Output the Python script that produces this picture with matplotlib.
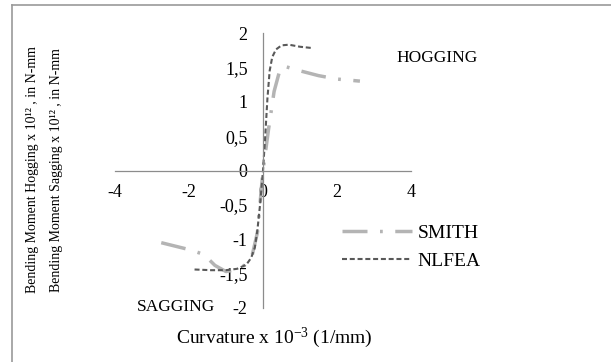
import matplotlib
matplotlib.use("Agg")
import matplotlib.pyplot as plt
from matplotlib.lines import Line2D

plt.rcParams['font.family'] = ['Liberation Serif', 'DejaVu Serif']
plt.rcParams['mathtext.fontset'] = 'custom'
plt.rcParams['mathtext.rm'] = 'Liberation Serif'
plt.rcParams['mathtext.it'] = 'Liberation Serif:italic'
plt.rcParams['lines.scale_dashes'] = False

# Data
smith_x = [-2.75, -2.0, -1.6, -1.3, -1.0, -0.8, -0.5, -0.3, -0.15, 0.0, 0.15, 0.3, 0.45, 0.55, 1.0, 1.5, 2.0, 2.62]
smith_y = [-1.05, -1.15, -1.22, -1.38, -1.47, -1.45, -1.38, -1.25, -0.9, 0.0, 0.6, 1.15, 1.45, 1.52, 1.45, 1.38, 1.33, 1.30]

nlfea_x = [-1.85, -1.4, -1.0, -0.7, -0.45, -0.32, -0.22, -0.15, -0.08, 0.0, 0.06, 0.12, 0.18, 0.25, 0.35, 0.5, 0.7, 1.0, 1.35]
nlfea_y = [-1.44, -1.45, -1.45, -1.43, -1.37, -1.27, -1.12, -0.86, -0.5, 0.0, 0.5, 1.05, 1.45, 1.65, 1.76, 1.82, 1.83, 1.80, 1.78]

x_ticks = [-4, -2, 0, 2, 4]
x_ticklabels = ['-4', '-2', '0', '2', '4']
y_ticks = [-2, -1.5, -1, -0.5, 0, 0.5, 1, 1.5, 2]
y_ticklabels = ['-2', '-1,5', '-1', '-0,5', '0', '0,5', '1', '1,5', '2']

W, H = 611, 362
fig = plt.figure(figsize=(W / 100, H / 100), dpi=100)
ax = fig.add_axes([115 / W, (H - 308) / H, 296 / W, 275 / H])

ax.plot(smith_x, smith_y, color='#b4b4b4', lw=2.5, dashes=(18, 9, 2, 9),
        solid_capstyle='butt', dash_capstyle='butt', label='SMITH')
ax.plot(nlfea_x, nlfea_y, color='#595959', lw=1.5, dashes=(3.6, 2.0),
        label='NLFEA')

ax.set_xlim(-4, 4)
ax.set_ylim(-2, 2)
for s in ['top', 'right']:
    ax.spines[s].set_visible(False)
ax.spines['left'].set_position('zero')
ax.spines['bottom'].set_position('zero')
for s in ['left', 'bottom']:
    ax.spines[s].set_color('#8c8c8c')
    ax.spines[s].set_linewidth(0.9)
ax.set_xticks(x_ticks)
ax.set_xticklabels(x_ticklabels)
ax.set_yticks(y_ticks)
ax.set_yticklabels(y_ticklabels)
ax.tick_params(axis='both', length=0, labelsize=13, colors='#000000')
ax.tick_params(axis='x', pad=10)
ax.tick_params(axis='y', pad=11)
ax.patch.set_visible(False)

ax.text(4.7, 1.63, 'HOGGING', fontsize=12.5, ha='center', va='center', clip_on=False)
ax.text(-2.35, -1.98, 'SAGGING', fontsize=12.5, ha='center', va='center')

leg = ax.legend(loc='center left', bbox_to_anchor=(227 / 296, 0.222), frameon=False,
                fontsize=14, handlelength=3.6, handletextpad=0.3, labelspacing=0.55,
                borderaxespad=0, borderpad=0)

fig.text(274 / W, 1 - 338 / H, 'Curvature x 10$^{\\mathrm{-3}}$ (1/mm)', fontsize=14,
         ha='center', va='center')
fig.text(33 / W, 1 - 170 / H, 'Bending Moment Hogging x 10¹² , in N-mm', fontsize=10,
         rotation=90, ha='center', va='center')
fig.text(57 / W, 1 - 170 / H, 'Bending Moment Sagging x 10¹² , in N-mm', fontsize=10,
         rotation=90, ha='center', va='center')

fig.add_artist(Line2D([11.5 / W, 11.5 / W], [0, 1 - 4.5 / H], transform=fig.transFigure,
                      color='#999999', lw=1.2))
fig.add_artist(Line2D([11.5 / W, 1], [1 - 4.5 / H, 1 - 4.5 / H], transform=fig.transFigure,
                      color='#999999', lw=1.2))

fig.savefig('out.png', dpi=100)
